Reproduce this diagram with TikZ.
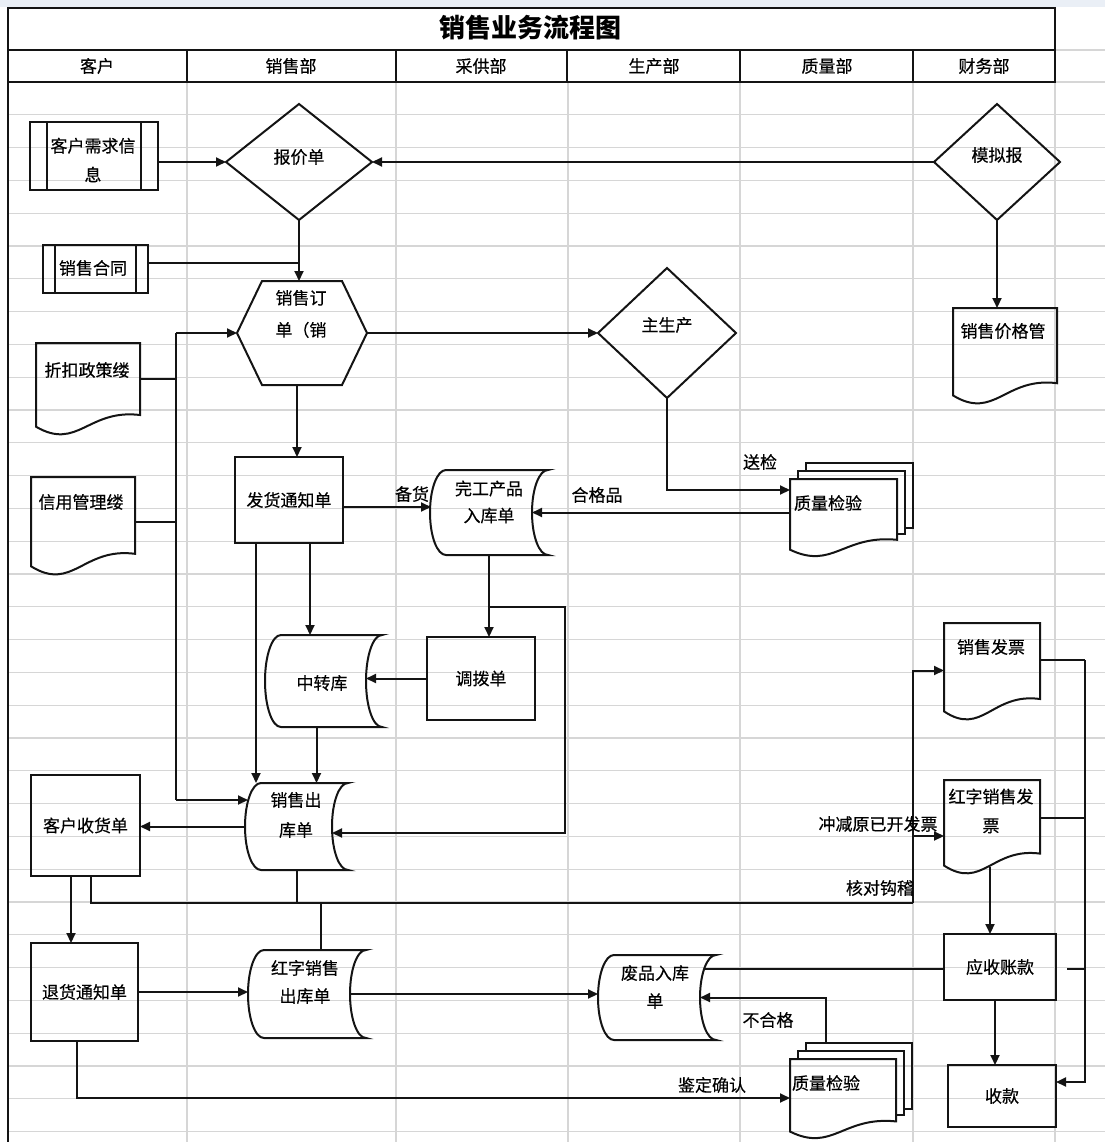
\documentclass[tikz,border=0pt]{standalone}
\usepackage{fontspec}
\setmainfont[FakeBold=0.4]{Noto Sans CJK SC}
\newfontfamily\titlefont{Noto Sans CJK SC}
\usetikzlibrary{arrows.meta,shapes.geometric,calc}
\definecolor{gridc}{RGB}{214,214,214}
\definecolor{topband}{RGB}{234,239,246}
\definecolor{ink}{RGB}{20,20,20}

\newcommand\PredefBox[6]{%
  \node[hold, minimum width={(#4-#2)*1pt}, minimum height={(#5-#3)*1pt}] (#1) at ({(#2+#4)/2},{(#3+#5)/2}) {};
  \draw[shp] (#1.north west) rectangle (#1.south east);
  \draw[shp] ([xshift=#6pt]#1.north west) -- ([xshift=#6pt]#1.south west);
  \draw[shp] ([xshift=-#6pt]#1.north east) -- ([xshift=-#6pt]#1.south east);
}
\newcommand\DocBox[5]{%
  \node[hold, minimum width={(#4-#2)*1pt}, minimum height={(#5-#3)*1pt}] (#1) at ({(#2+#4)/2},{(#3+#5)/2}) {};
  \pgfmathsetmacro\dbw{#4-#2}\pgfmathsetmacro\dbh{#5-#3}
  \draw[shp] (#2,{#5-0.07*\dbh}) -- (#2,#3) -- (#4,#3) -- (#4,{#5-0.2*\dbh})
    .. controls ({#4-0.5*\dbw},{#5-0.27*\dbh}) and ({#2+0.4*\dbw},{#5+0.2*\dbh}) .. (#2,{#5-0.07*\dbh}) -- cycle;
}
\newcommand\StoreBox[5]{%
  \node[hold, minimum width={(#4-#2)*1pt}, minimum height={(#5-#3)*1pt}] (#1) at ({(#2+#4)/2},{(#3+#5)/2}) {};
  \pgfmathsetmacro\sbm{(#3+#5)/2}\pgfmathsetmacro\sbk{0.55*(#5-#3)/2}
  \draw[shp] ({#2+16},#3) -- (#4,#3)
    .. controls ({#4-9},#3) and ({#4-16},{\sbm-\sbk}) .. ({#4-16},\sbm)
    .. controls ({#4-16},{\sbm+\sbk}) and ({#4-9},#5) .. (#4,#5)
    -- ({#2+16},#5)
    .. controls ({#2+7},#5) and (#2,{\sbm+\sbk}) .. (#2,\sbm)
    .. controls (#2,{\sbm-\sbk}) and ({#2+7},#3) .. ({#2+16},#3) -- cycle;
}
\newcommand\MultiDocBox[5]{%
  \pgfmathsetmacro\mdh{#5-#3}
  \draw[shp] ({#2+16},{#3-8}) -- ({#2+16},{#3-16}) -- ({#4+16},{#3-16}) -- ({#4+16},{#5-0.2*\mdh-12}) -- ({#4+8},{#5-0.2*\mdh-12});
  \draw[shp] ({#2+8},#3) -- ({#2+8},{#3-8}) -- ({#4+8},{#3-8}) -- ({#4+8},{#5-0.2*\mdh-6}) -- (#4,{#5-0.2*\mdh-6});
  \DocBox{#1}{#2}{#3}{#4}{#5}
}

\begin{document}
\begin{tikzpicture}[x=1pt,y=-1pt,
  grid/.style={draw=gridc, line width=1.1pt},
  frame/.style={draw=ink, line width=2.8pt},
  shp/.style={draw=ink, line width=2pt, line join=miter},
  conn/.style={draw=ink, line width=2pt},
  arr/.style={conn, -{Triangle[length=10pt,width=9pt]}},
  hold/.style={draw=none, inner sep=0pt, outer sep=0pt},
  diam/.style={diamond, draw=ink, line width=2pt, inner sep=0pt, outer sep=0pt},
  rbox/.style={draw=ink, line width=2pt, inner sep=0pt, outer sep=0pt, font=\fontsize{17pt}{20pt}\selectfont},
  txt/.style={font=\fontsize{17pt}{20pt}\selectfont, inner sep=0pt, align=center},
  txt2/.style={font=\fontsize{17pt}{29pt}\selectfont, inner sep=0pt, align=center},
  head/.style={font=\fontsize{17pt}{18pt}\selectfont, inner sep=0pt}
]
\useasboundingbox (0,0) rectangle (1105,1142);
\fill[topband] (0,0) rectangle (1105,7);

% grid of the sheet
\foreach \k in {1,...,32} \draw[grid] (8,{82+32.8*\k}) -- (1105,{82+32.8*\k});
\foreach \xx in {187,396,568,740,913,1055} \draw[grid] (\xx,82) -- (\xx,1142);
\draw[grid] (1055,50) -- (1105,50);
\draw[grid] (1055,82) -- (1105,82);

% frame and header
\draw[frame] (8,1142) -- (8,8) -- (1055,8) -- (1055,82) -- (8,82);
\draw[frame] (8,50) -- (1055,50);
\foreach \xx in {187,396,567,740,913} \draw[frame] (\xx,50) -- (\xx,82);
\node[inner sep=0pt, font=\titlefont\fontsize{26pt}{28pt}\selectfont\bfseries] (title) at (530,28) {销售业务流程图};
\node[head] (h1) at (97,66) {客户};
\node[head] (h2) at (291,66) {销售部};
\node[head] (h3) at (481,66) {采供部};
\node[head] (h4) at (654,66) {生产部};
\node[head] (h5) at (827,66) {质量部};
\node[head] (h6) at (984,66) {财务部};

% ---------- shapes ----------
\PredefBox{khxq}{30}{122}{158}{190}{17}
\node[txt2] (khxq-t) at (93,160) {客户需求信\\息};

\node[diam, minimum width=146pt, minimum height=116pt] (bjd) at (299,162) {};
\node[txt] (bjd-t) at (299,157) {报价单};

\node[diam, minimum width=126pt, minimum height=116pt] (mnb) at (997,162) {};
\node[txt] (mnb-t) at (997,155) {模拟报};

\DocBox{jgg}{953}{308}{1057}{402}
\node[txt] (jgg-t) at (1003,331) {销售价格管};

\PredefBox{xsht}{43}{245}{148}{293}{12}
\node[txt] (xsht-t) at (93,268) {销售合同};

\node[hold, minimum width=130pt, minimum height=104pt] (xsdd) at (302,333) {};
\draw[shp] ([xshift=25pt]xsdd.north west) -- ([xshift=-25pt]xsdd.north east) -- (xsdd.east)
  -- ([xshift=-25pt]xsdd.south east) -- ([xshift=25pt]xsdd.south west) -- (xsdd.west) -- cycle;
\node[font=\fontsize{17pt}{32pt}\selectfont, inner sep=0pt, align=center] (xsdd-t) at (301,314) {销售订\\单（销};

\node[diam, minimum width=138pt, minimum height=130pt] (zsc) at (667,333) {};
\node[txt] (zsc-t) at (667,325) {主生产};

\DocBox{zkzc}{36}{343}{140}{433}
\node[txt] (zkzc-t) at (87,370) {折扣政策缕};

\DocBox{xygl}{31}{477}{135}{573}
\node[txt] (xygl-t) at (81,502) {信用管理缕};

\node[rbox, minimum width=108pt, minimum height=86pt] (fhtz) at (289,500) {发货通知单};

\StoreBox{wgrk}{430}{470}{548}{555}
\node[font=\fontsize{17pt}{27pt}\selectfont, inner sep=0pt, align=center] (wgrk-t) at (489,502) {完工产品\\入库单};

\MultiDocBox{zj1}{790}{479}{897}{555}
\node[txt] (zj1-t) at (828,503) {质量检验};

\StoreBox{zzk}{265}{635}{382}{727}
\node[txt] (zzk-t) at (322,683) {中转库};

\node[rbox, minimum width=108pt, minimum height=83pt] (dbd) at (481,678.5) {调拨单};

\StoreBox{xsck}{245}{783}{348}{870}
\node[font=\fontsize{17pt}{30pt}\selectfont, inner sep=0pt, align=center] (xsck-t) at (296,815) {销售出\\库单};

\node[rbox, minimum width=109pt, minimum height=101pt] (khsh) at (85.5,825.5) {客户收货单};

\DocBox{xsfp}{944}{623}{1040}{718}
\node[txt] (xsfp-t) at (991,647) {销售发票};

\DocBox{hzfp}{944}{780}{1040}{872}
\node[txt2] (hzfp-t) at (991,811) {红字销售发\\票};

\node[rbox, minimum width=107pt, minimum height=98pt] (thtz) at (84.5,992) {退货通知单};

\StoreBox{hzck}{248}{950}{366}{1038}
\node[font=\fontsize{17pt}{28pt}\selectfont, inner sep=0pt, align=center] (hzck-t) at (305,982) {红字销售\\出库单};

\StoreBox{fprk}{598}{955}{716}{1040}
\node[font=\fontsize{17pt}{28pt}\selectfont, inner sep=0pt, align=center] (fprk-t) at (655,987) {废品入库\\单};

\node[rbox, minimum width=112pt, minimum height=66pt] (yszk) at (1000,967) {应收账款};

\MultiDocBox{zj2}{790}{1059}{896}{1137}
\node[txt] (zj2-t) at (826,1083) {质量检验};

\node[rbox, minimum width=108pt, minimum height=62pt] (sk) at (1002,1096) {收款};

% ---------- helper coordinates ----------
\coordinate (j1) at (299,263);
\coordinate (busT) at (176,333);
\coordinate (busB) at (176,800);
\coordinate (j3) at (489,607);
\coordinate (bb) at (913,903);
\coordinate (rb) at (1085,660);
\coordinate (wgrkR) at ([xshift=-16pt]wgrk.east);
\coordinate (wgrkL) at ([xshift=1pt]wgrk.west);
\coordinate (zzkR) at ([xshift=-16pt]zzk.east);
\coordinate (xsckR) at ([xshift=-16pt,yshift=-6.5pt]xsck.east);
\coordinate (xsckL) at ([xshift=3pt]xsck.west);
\coordinate (hzckR) at ([xshift=-16pt]hzck.east);
\coordinate (fprkR) at ([xshift=-16pt]fprk.east);
\coordinate (fprkRt) at ([xshift=-12pt]fprk.east);

% ---------- connectors ----------
\draw[arr] (khxq.east |- bjd.west) -- (bjd.west);
\draw[arr] (mnb.west) -- (bjd.east);
\draw[arr] (mnb.south) -- (mnb.south |- jgg.north);
\draw[arr] (bjd.south) -- (bjd.south |- xsdd.north);
\draw[conn] (xsht.east |- j1) -- (j1);

\draw[conn] ([yshift=9pt]zkzc.east) -- ([yshift=9pt]zkzc.east -| busT);
\draw[conn] ([yshift=3pt]xygl.east) -- ([yshift=3pt]xygl.east -| busT);
\draw[conn] (busT) -- (busB);
\draw[arr] (busT) -- (xsdd.west);
\draw[arr] (busB) -- (busB -| xsckL);

\draw[arr] ([xshift=-5pt]xsdd.south) -- ([xshift=-5pt]xsdd.south |- fhtz.north);
\draw[arr] (xsdd.east) -- (zsc.west);
\draw[arr] (zsc.south) |- ([yshift=27pt]zj1.west);
\node[txt] (l-sj) at (760,462) {送检};
\draw[arr] (zj1.west |- wgrkR) -- (wgrkR);
\node[txt] (l-hgp) at (597,495) {合格品};
\draw[arr] ([yshift=-7pt]fhtz.east) -- ([yshift=-7pt]fhtz.east -| wgrkL);
\node[txt] (l-bh) at (412,494) {备货};

\draw[arr] (wgrk.south) -- (wgrk.south |- dbd.north);
\draw[arr] (j3) -- (565,607) -- (565,833) -- (xsckR);
\draw[arr] (dbd.west) -- (dbd.west -| zzkR);
\draw[arr] ([xshift=21pt]fhtz.south) -- ([xshift=21pt]fhtz.south |- zzk.north);
\draw[arr] ([xshift=-33pt]fhtz.south) -- ([xshift=-33pt]fhtz.south |- xsck.north);
\draw[arr] ([xshift=-7pt]zzk.south) -- ([xshift=-7pt]zzk.south |- xsck.north);

\draw[arr] (xsck.west) -- (xsck.west -| khsh.east);
\draw[arr] ([xshift=-14.5pt]khsh.south) -- ([xshift=-14.5pt]khsh.south |- thtz.north);

\draw[conn] ([xshift=5.5pt]khsh.south) |- (bb);
\draw[conn] (xsck.south) -- (xsck.south |- bb);
\draw[conn] ([xshift=14pt]hzck.north |- bb) -- ([xshift=14pt]hzck.north);
\draw[arr] (bb) |- (xsfp.west);
\node[txt] (l-hdgj) at (880,888) {核对钩稽};
\draw[arr] ([yshift=-10pt]hzfp.west -| bb) -- ([yshift=-10pt]hzfp.west);
\node[txt] (l-cj) at (878,824) {冲减原已开发票};

\draw[arr] ([xshift=-2pt,yshift=5pt]hzfp.south) -- ([xshift=-2pt]hzfp.south |- yszk.north);
\draw[arr] ([xshift=-5pt]yszk.south) -- ([xshift=-5pt]yszk.south |- sk.north);

\draw[conn] ([yshift=10.5pt]xsfp.east) -- ([yshift=10.5pt]xsfp.east -| rb);
\draw[conn] ([yshift=8pt]hzfp.east) -- ([yshift=8pt]hzfp.east -| rb);
\draw[conn] ([xshift=11pt,yshift=-2pt]yszk.east) -- ([yshift=-2pt]yszk.east -| rb);
\draw[arr] (rb) |- ([yshift=14pt]sk.east);

\draw[conn] ([yshift=-2pt]yszk.west) -- ([yshift=-2pt]yszk.west -| fprkRt);
\draw[arr] ([xshift=-17pt,yshift=16pt]zj2.north) |- (fprkR);
\node[txt] (l-bhg) at (768,1020) {不合格};

\draw[arr] (thtz.east) -- (thtz.east -| hzck.west);
\draw[arr] (hzckR) -- (hzckR -| fprk.west);
\draw[arr] ([xshift=-7.5pt]thtz.south) |- (zj2.west);
\node[txt] (l-jdqr) at (712,1085) {鉴定确认};
\end{tikzpicture}
\end{document}
